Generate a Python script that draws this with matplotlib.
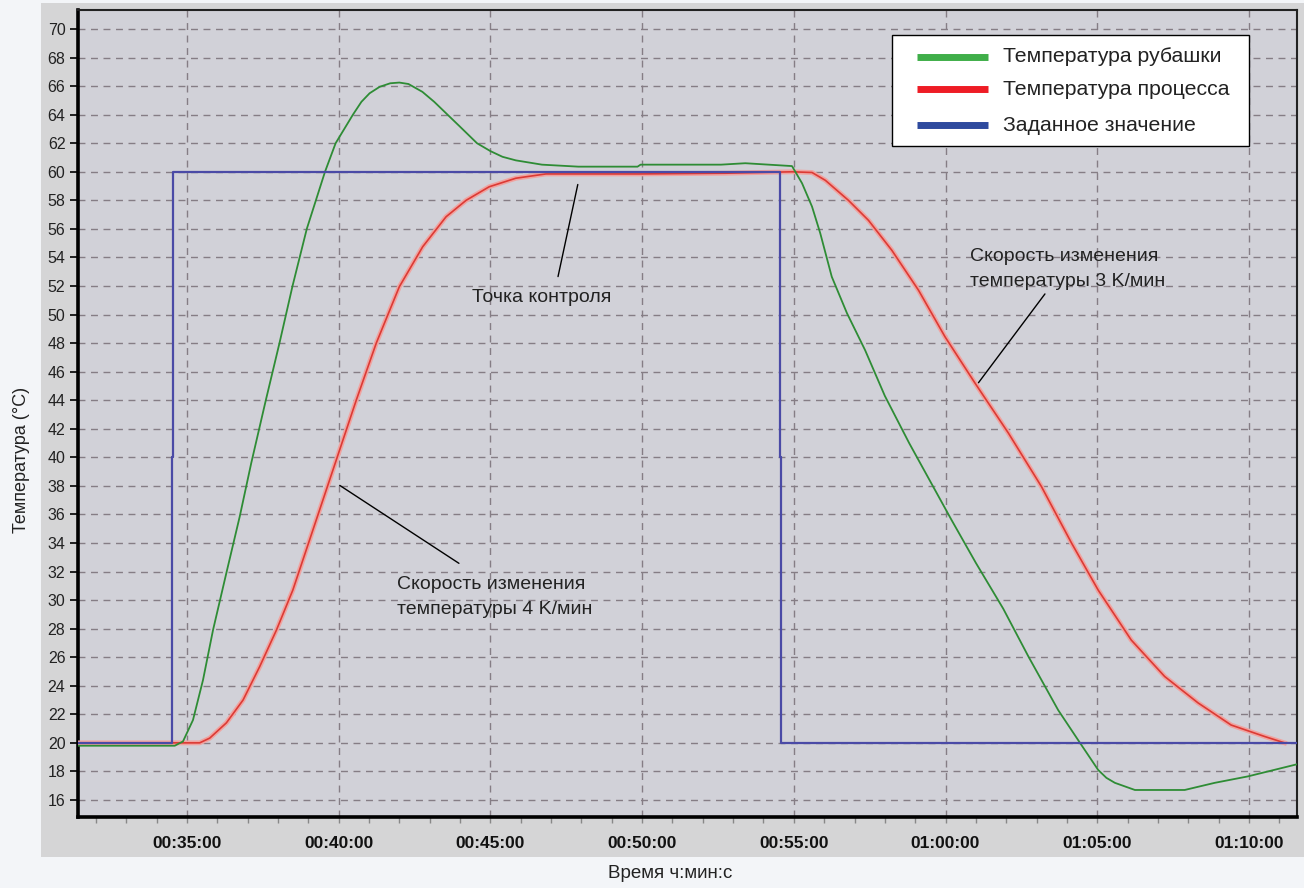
import matplotlib
matplotlib.use('Agg')
import matplotlib.pyplot as plt
import matplotlib.patheffects as pe
from matplotlib.patches import Rectangle
from matplotlib.ticker import MultipleLocator, FuncFormatter

plt.rcParams['font.family'] = ['Liberation Sans', 'DejaVu Sans']

# time in minutes, temperature in degC
jacket_t = [31.41, 34.6, 34.87, 35.2, 35.53, 35.86, 36.3, 36.74, 37.12, 37.6, 38.05, 38.48, 38.95,
            39.55, 39.9, 40.47, 40.75, 41.02, 41.35, 41.7, 42.0, 42.3, 42.76, 43.15, 43.54, 43.98,
            44.56, 45.0, 45.4, 45.84, 46.7, 47.9, 49.85, 49.95, 52.6, 53.4, 54.94, 55.27, 55.6,
            55.87, 56.25, 56.75, 57.35, 58.0, 58.8, 59.5, 60.2, 61.0, 61.9, 62.73, 63.71, 64.43,
            65.03, 65.3, 65.58, 66.24, 67.88, 68.87, 69.96, 71.58]
jacket_v = [19.8, 19.8, 20.1, 21.6, 24.4, 27.9, 31.9, 35.85, 39.6, 44.0, 48.0, 52.0, 56.0,
            60.0, 62.0, 64.0, 64.9, 65.5, 65.95, 66.2, 66.25, 66.15, 65.6, 64.9, 64.1, 63.2,
            62.0, 61.45, 61.05, 60.8, 60.5, 60.36, 60.36, 60.5, 60.5, 60.6, 60.4, 59.2, 57.56,
            55.7, 52.65, 50.1, 47.5, 44.3, 41.0, 38.3, 35.6, 32.6, 29.4, 26.05, 22.3, 20.0,
            18.1, 17.55, 17.2, 16.7, 16.7, 17.2, 17.65, 18.5]

process_t = [31.41, 35.42, 35.75, 36.3, 36.85, 37.4, 37.95, 38.49, 39.04, 39.59, 39.92, 40.58,
             41.24, 42.0, 42.77, 43.54, 44.2, 44.96, 45.84, 46.83, 49.9, 52.75, 54.94, 55.6,
             56.04, 56.8, 57.46, 58.23, 59.11, 59.98, 60.97, 62.07, 63.16, 64.15, 65.03, 66.12,
             67.22, 68.32, 69.41, 70.51, 71.17]
process_v = [20.0, 20.0, 20.33, 21.4, 23.0, 25.35, 27.9, 30.7, 34.2, 37.7, 39.8, 44.0,
             48.0, 51.95, 54.75, 56.85, 58.0, 58.95, 59.55, 59.85, 59.85, 59.9, 60.0, 59.95,
             59.4, 58.0, 56.6, 54.5, 51.7, 48.45, 45.2, 41.7, 37.95, 34.0, 30.7, 27.2,
             24.65, 22.8, 21.25, 20.45, 20.0]

setpoint_t = [31.41, 34.5, 34.5, 34.53, 34.53, 54.53, 54.53, 54.58, 54.58, 71.58]
setpoint_v = [20, 20, 40, 40, 60, 60, 40, 40, 20, 20]

legend_labels = ['Температура рубашки', 'Температура процесса', 'Заданное значение']
legend_colors = ['#3fae49', '#ee1c25', '#2e4a9e']

x_lim = (31.41, 71.58)
y_lim = (14.81, 71.33)


def hms(x, pos=None):
    m = int(round(x))
    return '%02d:%02d:00' % (m // 60, m % 60)


fig = plt.figure(figsize=(13.04, 8.88), dpi=100)
fig.patch.set_facecolor('#f3f5f8')
fig.patches.append(Rectangle((0.0314, 0.0349), 0.9686, 0.9617, transform=fig.transFigure,
                             facecolor='#d5d5d6', edgecolor='none', zorder=-10))

ax = fig.add_axes([0.0598, 0.08, 0.9348, 0.9087])
ax.set_facecolor('#d1d1d8')

ax.plot(process_t, process_v, color='#dc3a34', lw=1.2, zorder=3,
        path_effects=[pe.Stroke(linewidth=3.5, foreground='#f0a3a0'), pe.Normal()])
ax.plot(jacket_t, jacket_v, color='#2e8c35', lw=1.3, zorder=4)
ax.plot(setpoint_t, setpoint_v, color='#4a4aa6', lw=1.6, zorder=5)

ax.set_xlim(*x_lim)
ax.set_ylim(*y_lim)
ax.xaxis.set_major_locator(MultipleLocator(5))
ax.xaxis.set_minor_locator(MultipleLocator(1))
ax.xaxis.set_major_formatter(FuncFormatter(hms))
ax.yaxis.set_major_locator(MultipleLocator(2))

ax.grid(True, which='major', color='#857d85', linestyle=(0, (5, 4)), linewidth=1.0)
ax.set_axisbelow(True)

for s in ['left', 'bottom']:
    ax.spines[s].set_linewidth(2.6)
    ax.spines[s].set_color('black')
for s in ['top', 'right']:
    ax.spines[s].set_linewidth(1.5)
    ax.spines[s].set_color('#222222')

ax.tick_params(axis='y', which='major', length=6, width=1.2, pad=3, labelsize=11.5,
               labelcolor='#222222')
ax.tick_params(axis='x', which='both', length=4, width=1, color='#888888', pad=10)
for lab in ax.get_xticklabels():
    lab.set_fontweight('bold')
    lab.set_fontsize(12.5)
    lab.set_color('#111111')

fig.text(0.0165, 0.482, 'Температура (°C)', rotation=90, ha='center', va='center',
         fontsize=13, color='#222222')
fig.text(0.514, 0.016, 'Время ч:мин:с', ha='center', va='center', fontsize=13.5,
         color='#222222')

# annotations
ax.annotate('', xy=(47.9, 59.3), xytext=(47.21, 52.47),
            arrowprops=dict(arrowstyle='-', color='black', lw=1.0))
ax.text(46.7, 51.17, 'Точка контроля', ha='center', va='center', fontsize=14, color='#222222')

ax.annotate('', xy=(39.96, 38.14), xytext=(44.04, 32.47),
            arrowprops=dict(arrowstyle='-', color='black', lw=1.0))
ax.text(41.93, 30.2, 'Скорость изменения\nтемпературы 4 K/мин', ha='left', va='center',
        fontsize=14, color='#222222', linespacing=1.6)

ax.annotate('', xy=(61.03, 45.07), xytext=(63.33, 51.6),
            arrowprops=dict(arrowstyle='-', color='black', lw=1.0))
ax.text(60.82, 53.2, 'Скорость изменения\nтемпературы 3 K/мин', ha='left', va='center',
        fontsize=14, color='#222222', linespacing=1.6)

# legend box drawn in axes fractions
ax.add_patch(Rectangle((0.6675, 0.8318), 0.2934, 0.1372, transform=ax.transAxes,
                       facecolor='white', edgecolor='black', lw=1.0, zorder=10))
rows = [0.9421, 0.9021, 0.8575]
for y, c, lab in zip(rows, legend_colors, legend_labels):
    ax.plot([0.6880, 0.7467], [y, y], transform=ax.transAxes, color=c, lw=5,
            solid_capstyle='butt', zorder=11, clip_on=False)
    ax.text(0.7588, y, lab, transform=ax.transAxes, ha='left', va='center', fontsize=15.3,
            color='#222222', zorder=11)

fig.savefig('out.png', dpi=100, facecolor=fig.get_facecolor())
